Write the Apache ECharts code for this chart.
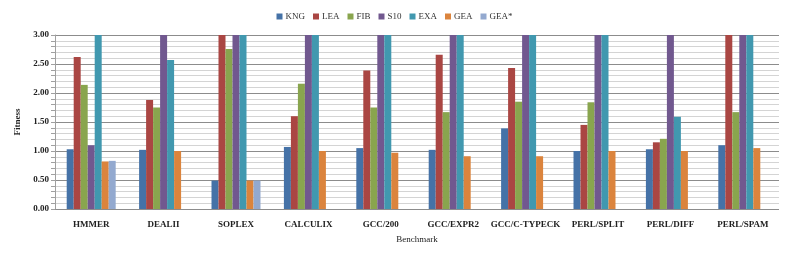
<!DOCTYPE html>
<html><head><meta charset="utf-8">
<script src="https://cdn.jsdelivr.net/npm/echarts@6/dist/echarts.min.js"></script>
<style>html,body{margin:0;padding:0;background:#fff}#c{width:789px;height:255px}</style>
</head><body><div id="c"></div>
<script>
const categories = ['HMMER','DEALII','SOPLEX','CALCULIX','GCC/200','GCC/EXPR2','GCC/C-TYPECK','PERL/SPLIT','PERL/DIFF','PERL/SPAM'];
const seriesNames = ['KNG','LEA','FIB','S10','EXA','GEA','GEA*'];
const KNG = [1.03,1.02,0.49,1.07,1.05,1.02,1.39,1.00,1.03,1.10];
const LEA = [2.62,1.88,3.00,1.60,2.39,2.66,2.43,1.45,1.15,3.00];
const FIB = [2.14,1.75,2.76,2.16,1.75,1.67,1.85,1.84,1.21,1.67];
const S10 = [1.10,3.00,3.00,3.00,3.00,3.00,3.00,3.00,3.00,3.00];
const EXA = [3.00,2.57,3.00,3.00,3.00,3.00,3.00,3.00,1.59,3.00];
const GEA = [0.82,1.00,0.49,1.00,0.97,0.91,0.91,1.00,1.00,1.05];
const GEAstar = [0.83,null,0.49,null,null,null,null,null,null,null];
const yTicks = [0,0.5,1,1.5,2,2.5,3];

const values = [KNG,LEA,FIB,S10,EXA,GEA,GEAstar];
const colors = ['#4572A7','#AA4643','#89A54E','#71588F','#4198AF','#DB843D','#93A9CF'];
const font = '"Liberation Serif", serif';
const chart = echarts.init(document.getElementById('c'));
chart.setOption({
  animation:false,
  textStyle:{fontFamily:font},
  legend:{top:7,left:'center',itemWidth:6,itemHeight:6,itemGap:8,
    icon:'rect',textStyle:{fontSize:9,color:'#333',fontFamily:font,padding:[0,0,0,-2]},
    data:seriesNames},
  grid:{left:55,right:10,top:35,bottom:46},
  xAxis:{type:'category',data:categories,
    name:'Benchmark',nameLocation:'middle',nameGap:26,
    nameTextStyle:{fontSize:9,color:'#222',fontFamily:font},
    axisLine:{show:false},axisTick:{show:false},
    axisLabel:{fontSize:9,color:'#222',fontFamily:font,fontWeight:'bold',margin:11,interval:0}},
  yAxis:{type:'value',min:0,max:3,interval:0.5,
    name:'Fitness',nameLocation:'middle',nameGap:33,
    nameTextStyle:{fontSize:9,color:'#222',fontFamily:font,fontWeight:'bold'},
    axisLine:{show:true,lineStyle:{color:'#A0A0A0'}},
    axisTick:{show:true,length:4,lineStyle:{color:'#A0A0A0'}},
    minorTick:{show:true,splitNumber:5,length:4,lineStyle:{color:'#A0A0A0'}},
    axisLabel:{fontSize:9,color:'#222',fontFamily:font,fontWeight:'bold',margin:6,
      formatter:v=>yTicks.includes(v)?v.toFixed(2):''},
    splitLine:{show:true,lineStyle:{color:'#8C8C8C',width:1}},
    minorSplitLine:{show:true,lineStyle:{color:'#D4D4D4',width:1}}},
  series:seriesNames.map((n,i)=>({name:n,type:'bar',data:values[i],barWidth:7,barGap:'0%',
    itemStyle:{color:colors[i]}}))
});
</script></body></html>
